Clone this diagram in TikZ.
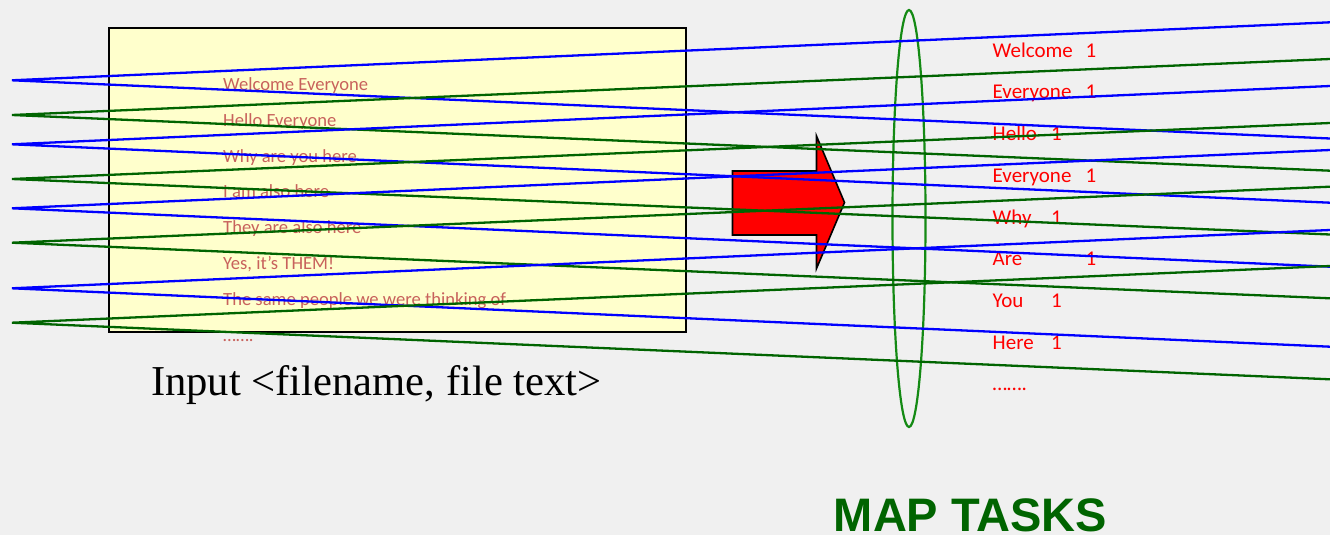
\documentclass[tikz,border=0pt]{standalone}
\usepackage{fontspec}
\newfontfamily\calib{Carlito}
\newfontfamily\tnr{Liberation Serif}
\newfontfamily\arialf{Liberation Sans}
\definecolor{bg}{HTML}{F0F0F0}
\definecolor{boxfill}{HTML}{FFFFCC}
\definecolor{intext}{HTML}{C8625C}
\definecolor{lblue}{HTML}{0000FF}
\definecolor{lgreen}{HTML}{006400}
\definecolor{ellgreen}{HTML}{148A14}
\definecolor{mapgreen}{HTML}{006400}
\tikzset{
  inline/.style={anchor=base west, inner sep=0pt, text=intext, font=\calib\fontsize{18.6}{22}\selectfont},
  outline/.style={anchor=base west, inner sep=0pt, text=red, font=\calib\fontsize{21}{25}\selectfont},
  bluefan/.style={draw=lblue, line width=2.3pt},
  greenfan/.style={draw=lgreen, line width=2.3pt},
}
\begin{document}
\begin{tikzpicture}[x=1pt, y=-1pt]
\fill[bg] (0,0) rectangle (1330,535);
\useasboundingbox (0,0) rectangle (1330,535);

% input box
\node[draw=black, line width=1.6pt, fill=boxfill, anchor=north west, minimum width=577pt, minimum height=304pt, inner sep=0pt] (box) at (108,27) {};

\node[inline] (t1) at (223,90) {Welcome Everyone};
\node[inline] (t2) at (223,126) {Hello Everyone};
\node[inline] (t3) at (223,162) {Why are you here};
\node[inline] (t4) at (223,197.8) {I am also here};
\node[inline] (t5) at (223,233.6) {They are also here};
\node[inline] (t6) at (223,269.4) {Yes, it’s THEM!};
\node[inline] (t7) at (223,305.2) {The same people we were thinking of};
\node[inline] (t8) at (223,341) {…….};

\node[anchor=base west, inner sep=0pt, font=\tnr\fontsize{42.6}{48}\selectfont] (inlabel) at (151,395.7) {Input <filename, file text>};

% red block arrow
\draw[fill=red, draw=black, line width=1.6pt, line join=miter] (732.5,171) -- (816.5,171) -- (816.5,136) -- (844.5,202.5) -- (816.5,268.5) -- (816.5,235) -- (732.5,235) -- cycle;

% ellipse
\coordinate (ellc) at (909,218.5);
\draw[ellgreen, line width=2.2pt] (ellc) ellipse [x radius=16.5pt, y radius=208.5pt];

% output words
\node[outline] (o1) at (992.5,57.3) {\makebox[93pt][l]{Welcome}1};
\node[outline] (o2) at (992.5,99) {\makebox[93pt][l]{Everyone}1};
\node[outline] (o3) at (992.5,140.7) {\makebox[58.5pt][l]{Hello}1};
\node[outline] (o4) at (992.5,182.4) {\makebox[93pt][l]{Everyone}1};
\node[outline] (o5) at (992.5,224) {\makebox[58.5pt][l]{Why}1};
\node[outline] (o6) at (992.5,265.7) {\makebox[93pt][l]{Are}1};
\node[outline] (o7) at (992.5,307.4) {\makebox[58.5pt][l]{You}1};
\node[outline] (o8) at (992.5,349) {\makebox[58.5pt][l]{Here}1};
\node[outline] (o9) at (992.5,390.8) {…….};

\node[anchor=base, inner sep=0pt, text=mapgreen, font=\arialf\bfseries\fontsize{47}{52}\selectfont] (map) at (970.5,531) {MAP TASKS};

% fan lines
\coordinate (L1) at (12,80.3);
\coordinate (L2) at (12,115);
\coordinate (L3) at (12,144.3);
\coordinate (L4) at (12,179);
\coordinate (L5) at (12,208.3);
\coordinate (L6) at (12,242.7);
\coordinate (L7) at (12,288.3);
\coordinate (L8) at (12,322.7);

\coordinate (U1) at (1330,22.3);   \coordinate (D1) at (1330,138.5);
\coordinate (U2) at (1330,59);     \coordinate (D2) at (1330,170.7);
\coordinate (U3) at (1330,86);     \coordinate (D3) at (1330,202.7);
\coordinate (U4) at (1330,123);    \coordinate (D4) at (1330,234.5);
\coordinate (U5) at (1330,150);    \coordinate (D5) at (1330,266.7);
\coordinate (U6) at (1330,186.7);  \coordinate (D6) at (1330,298.3);
\coordinate (U7) at (1330,230);    \coordinate (D7) at (1330,346.7);
\coordinate (U8) at (1330,266);    \coordinate (D8) at (1330,379.3);

\draw[bluefan]  (U1) -- (L1) -- (D1);
\draw[greenfan] (U2) -- (L2) -- (D2);
\draw[bluefan]  (U3) -- (L3) -- (D3);
\draw[greenfan] (U4) -- (L4) -- (D4);
\draw[bluefan]  (U5) -- (L5) -- (D5);
\draw[greenfan] (U6) -- (L6) -- (D6);
\draw[bluefan]  (U7) -- (L7) -- (D7);
\draw[greenfan] (U8) -- (L8) -- (D8);
\end{tikzpicture}
\end{document}
